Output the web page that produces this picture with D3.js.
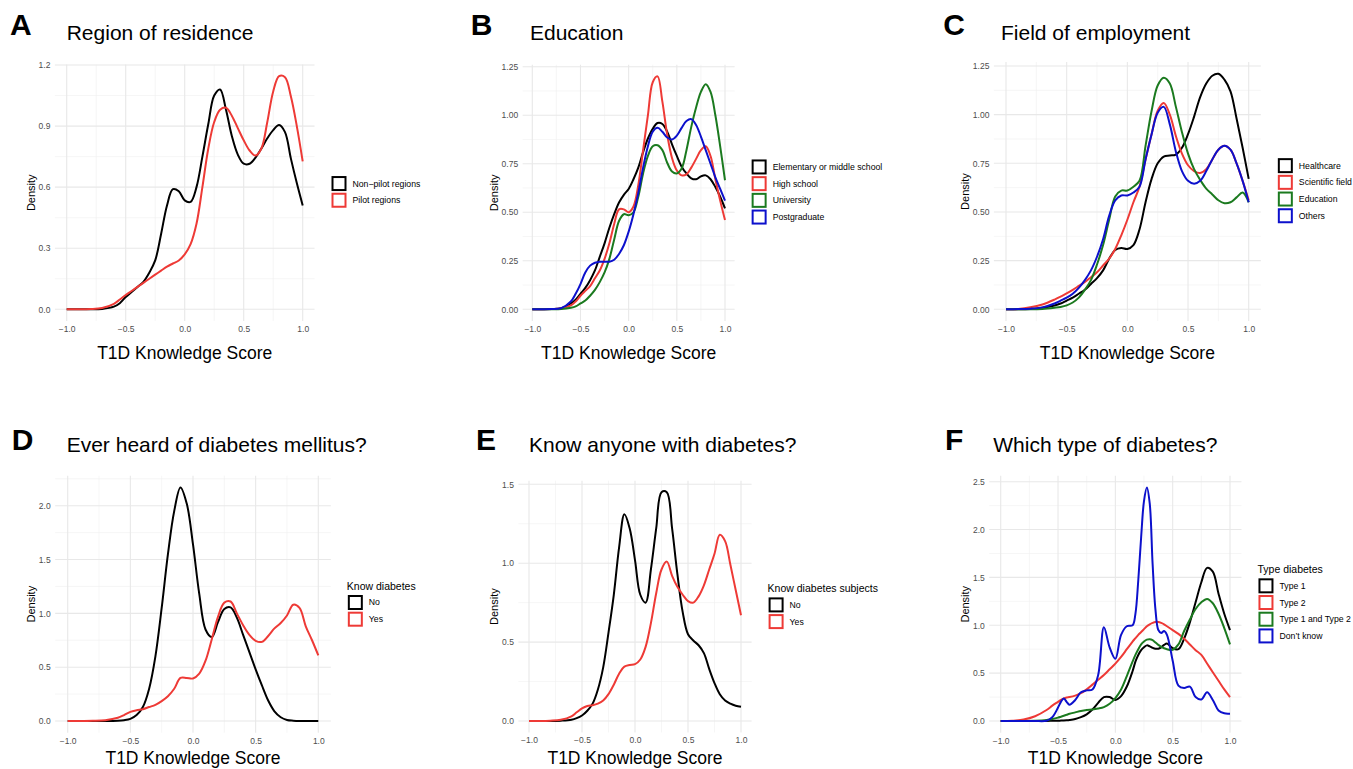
<!DOCTYPE html>
<html>
<head>
<meta charset="utf-8">
<script src="https://cdn.jsdelivr.net/npm/d3@7"></script>
<style>
  body { margin: 0; background: #fff; }
  svg { font-family: "Liberation Sans", Arial, Helvetica, sans-serif; }
</style>
</head>
<body>
<svg id="fig" width="1353" height="769"></svg>
<script>
// score grid the densities were read on (panels A-E)
const grid = [-1, -0.9, -0.8, -0.7, -0.6,
  -0.55, -0.5, -0.45, -0.4, -0.35, -0.3, -0.25, -0.2, -0.15, -0.1, -0.05,
  0, 0.05, 0.1, 0.15, 0.2, 0.25, 0.3, 0.35, 0.4, 0.45,
  0.5, 0.55, 0.6, 0.65, 0.7, 0.75, 0.8, 0.85, 0.9, 0.95,
  1];
// panel F needs a finer grid around the spikes
const gridF = [-1, -0.9, -0.8, -0.7, -0.6,
  -0.55, -0.5, -0.475, -0.45, -0.425, -0.4, -0.35, -0.3, -0.25, -0.2, -0.15, -0.1, -0.05,
  0, 0.05, 0.1, 0.15, 0.175, 0.2, 0.225, 0.25, 0.275, 0.3, 0.325, 0.35, 0.375, 0.4, 0.425, 0.45,
  0.5, 0.55, 0.6, 0.65, 0.7, 0.75, 0.8, 0.85, 0.9, 0.95,
  1];

// A - region of residence
const regionNames = ['Non\u2212pilot regions', 'Pilot regions'];
const regionNonPilot = [0, 0, 0, 0.002, 0.013,
  0.03, 0.06, 0.085, 0.11, 0.135, 0.18, 0.24, 0.37, 0.51, 0.59, 0.58,
  0.535, 0.528, 0.6, 0.75, 0.91, 1.05, 1.08, 0.98, 0.85, 0.76,
  0.715, 0.715, 0.745, 0.79, 0.84, 0.88, 0.905, 0.87, 0.74, 0.62,
  0.51];
const regionPilot = [0, 0, 0.001, 0.006, 0.027,
  0.048, 0.07, 0.09, 0.11, 0.13, 0.15, 0.17, 0.19, 0.21, 0.225, 0.24,
  0.27, 0.32, 0.42, 0.6, 0.79, 0.92, 0.98, 0.99, 0.95, 0.89,
  0.83, 0.78, 0.755, 0.79, 0.92, 1.07, 1.145, 1.14, 1.045, 0.9,
  0.727];

// B - education
const educationNames = ['Elementary or middle school', 'High school', 'University', 'Postgraduate'];
const eduElementary = [0, 0, 0.001, 0.006, 0.03,
  0.05, 0.08, 0.11, 0.15, 0.2, 0.27, 0.34, 0.42, 0.49, 0.55, 0.59,
  0.62, 0.67, 0.73, 0.81, 0.88, 0.93, 0.96, 0.955, 0.915, 0.85,
  0.79, 0.735, 0.7, 0.675, 0.67, 0.685, 0.69, 0.67, 0.63, 0.58,
  0.52];
const eduHighSchool = [0, 0, 0.001, 0.004, 0.02,
  0.04, 0.07, 0.095, 0.12, 0.16, 0.2, 0.26, 0.34, 0.44, 0.515, 0.515,
  0.5, 0.53, 0.64, 0.82, 1.0, 1.17, 1.2, 1.07, 0.9, 0.78,
  0.715, 0.69, 0.695, 0.73, 0.775, 0.82, 0.84, 0.79, 0.67, 0.56,
  0.46];
const eduUniversity = [0, 0, 0, 0.001, 0.008,
  0.015, 0.03, 0.045, 0.07, 0.1, 0.14, 0.19, 0.26, 0.36, 0.455, 0.49,
  0.485, 0.5, 0.58, 0.7, 0.79, 0.84, 0.845, 0.82, 0.755, 0.71,
  0.7, 0.725, 0.82, 0.94, 1.04, 1.12, 1.16, 1.12, 1.0, 0.84,
  0.665];
const eduPostgrad = [0, 0, 0.001, 0.006, 0.04,
  0.08, 0.13, 0.19, 0.225, 0.24, 0.245, 0.245, 0.245, 0.255, 0.285, 0.33,
  0.4, 0.49, 0.6, 0.73, 0.84, 0.915, 0.935, 0.915, 0.885, 0.875,
  0.895, 0.935, 0.97, 0.98, 0.95, 0.89, 0.82, 0.75, 0.68, 0.62,
  0.56];

// C - field of employment
const employmentNames = ['Healthcare', 'Scientific field', 'Education', 'Others'];
const empHealthcare = [0, 0, 0.002, 0.008, 0.02,
  0.03, 0.045, 0.06, 0.08, 0.1, 0.13, 0.16, 0.2, 0.26, 0.305, 0.315,
  0.31, 0.33, 0.41, 0.55, 0.67, 0.75, 0.785, 0.79, 0.795, 0.83,
  0.9, 0.99, 1.09, 1.16, 1.2, 1.21, 1.18, 1.12, 0.98, 0.83,
  0.67];
const empScientific = [0, 0.002, 0.01, 0.025, 0.05,
  0.065, 0.082, 0.1, 0.12, 0.14, 0.165, 0.19, 0.225, 0.26, 0.31, 0.38,
  0.46, 0.55, 0.63, 0.77, 0.9, 1.02, 1.06, 1.0, 0.89, 0.8,
  0.74, 0.71, 0.7, 0.72, 0.77, 0.82, 0.84, 0.82, 0.75, 0.66,
  0.56];
const empEducation = [0, 0, 0, 0.002, 0.008,
  0.012, 0.02, 0.035, 0.06, 0.1, 0.15, 0.23, 0.33, 0.46, 0.58, 0.61,
  0.61, 0.63, 0.66, 0.84, 1.02, 1.15, 1.19, 1.16, 1.04, 0.91,
  0.8, 0.72, 0.665, 0.62, 0.59, 0.56, 0.545, 0.55, 0.575, 0.6,
  0.55];
const empOthers = [0, 0.001, 0.003, 0.01, 0.03,
  0.045, 0.06, 0.08, 0.11, 0.15, 0.2, 0.27, 0.36, 0.48, 0.56, 0.585,
  0.585, 0.6, 0.63, 0.77, 0.9, 1.01, 1.04, 0.95, 0.81, 0.71,
  0.66, 0.645, 0.66, 0.71, 0.77, 0.82, 0.84, 0.82, 0.75, 0.66,
  0.55];

// D - ever heard of diabetes mellitus
const heardNames = ['No', 'Yes'];
const heardNo = [0, 0, 0, 0, 0.003,
  0.008, 0.02, 0.055, 0.13, 0.3, 0.6, 1.05, 1.55, 1.95, 2.17, 2.02,
  1.64, 1.18, 0.85, 0.78, 0.92, 1.04, 1.055, 0.96, 0.8, 0.64,
  0.48, 0.33, 0.19, 0.09, 0.035, 0.01, 0.003, 0, 0, 0,
  0];
const heardYes = [0, 0, 0.002, 0.008, 0.03,
  0.055, 0.085, 0.1, 0.11, 0.13, 0.15, 0.185, 0.23, 0.3, 0.4, 0.4,
  0.395, 0.44, 0.56, 0.76, 0.97, 1.1, 1.11, 1.0, 0.89, 0.8,
  0.745, 0.735, 0.79, 0.86, 0.91, 0.98, 1.08, 1.05, 0.88, 0.75,
  0.61];

// E - know anyone with diabetes
const knowNames = ['No', 'Yes'];
const knowNo = [0, 0, 0, 0.002, 0.008,
  0.018, 0.035, 0.065, 0.11, 0.2, 0.34, 0.56, 0.8, 1.1, 1.31, 1.22,
  1.02, 0.8, 0.75, 0.96, 1.22, 1.45, 1.45, 1.22, 0.93, 0.69,
  0.55, 0.51, 0.48, 0.43, 0.33, 0.24, 0.17, 0.13, 0.11, 0.097,
  0.09];
const knowYes = [0, 0, 0.002, 0.008, 0.03,
  0.055, 0.08, 0.095, 0.1, 0.11, 0.13, 0.17, 0.23, 0.3, 0.345, 0.355,
  0.36, 0.39, 0.47, 0.62, 0.81, 0.96, 1.01, 0.92, 0.85, 0.8,
  0.76, 0.75, 0.79, 0.86, 0.96, 1.06, 1.18, 1.14, 0.99, 0.83,
  0.67];

// F - which type of diabetes (on gridF)
const typeNames = ['Type 1', 'Type 2', 'Type 1 and Type 2', 'Don\u2019t know'];
const typeOne = [0, 0, 0, 0, 0.001,
  0.002, 0.003, 0.004, 0.005, 0.007, 0.01, 0.02, 0.04, 0.07, 0.12, 0.19, 0.25, 0.25,
  0.22, 0.26, 0.36, 0.52, 0.62, 0.69, 0.74, 0.77, 0.79, 0.78, 0.765, 0.755, 0.755, 0.77, 0.795, 0.81,
  0.76, 0.75, 0.86, 1.03, 1.24, 1.45, 1.6, 1.56, 1.33, 1.12,
  0.95];
const typeTwo = [0, 0.003, 0.015, 0.05, 0.115,
  0.16, 0.2, 0.22, 0.235, 0.245, 0.25, 0.265, 0.29, 0.33, 0.38, 0.43, 0.48, 0.54,
  0.6, 0.67, 0.75, 0.83, 0.865, 0.9, 0.93, 0.96, 0.99, 1.01, 1.025, 1.035, 1.035, 1.025, 1.01, 0.99,
  0.95, 0.91, 0.86, 0.8, 0.74, 0.69, 0.6, 0.51, 0.42, 0.33,
  0.25];
const typeBoth = [0, 0, 0, 0.002, 0.01,
  0.02, 0.035, 0.045, 0.055, 0.065, 0.075, 0.09, 0.105, 0.115, 0.12, 0.13, 0.145, 0.18,
  0.24, 0.33, 0.47, 0.62, 0.69, 0.75, 0.8, 0.83, 0.85, 0.855, 0.845, 0.82, 0.795, 0.775, 0.76, 0.75,
  0.745, 0.8, 0.94, 1.06, 1.17, 1.24, 1.275, 1.23, 1.12, 0.97,
  0.8];
const typeDontKnow = [0, 0, 0, 0, 0.003,
  0.04, 0.14, 0.2, 0.235, 0.2, 0.17, 0.22, 0.3, 0.32, 0.33, 0.48, 0.98, 0.77,
  0.65, 0.9, 0.99, 1.0, 1.12, 1.47, 1.92, 2.3, 2.44, 2.27, 1.64, 1.16, 0.95, 0.92, 0.94, 0.9,
  0.63, 0.37, 0.345, 0.36, 0.25, 0.225, 0.3, 0.22, 0.11, 0.08,
  0.077];

// ticks
const xTicks = [-1, -0.5, 0, 0.5, 1];
const yTicksA = [0, 0.3, 0.6, 0.9, 1.2];
const yTicksB = [0, 0.25, 0.5, 0.75, 1, 1.25];
const yTicksC = [0, 0.25, 0.5, 0.75, 1, 1.25];
const yTicksD = [0, 0.5, 1, 1.5, 2];
const yTicksE = [0, 0.5, 1, 1.5];
const yTicksF = [0, 0.5, 1, 1.5, 2, 2.5];

const colBlack = '#000000', colRed = '#ee3a36', colGreen = '#1b7a1f', colBlue = '#0c10cc';
const two = [colBlack, colRed];
const four = [colBlack, colRed, colGreen, colBlue];

const panels = [
  {letter: 'A', title: 'Region of residence', xs: grid, series: [regionNonPilot, regionPilot],
   names: regionNames, colors: two, legendTitle: null, yTicks: yTicksA, yFmt: '.1f'},
  {letter: 'B', title: 'Education', xs: grid, series: [eduElementary, eduHighSchool, eduUniversity, eduPostgrad],
   names: educationNames, colors: four, legendTitle: null, yTicks: yTicksB, yFmt: '.2f'},
  {letter: 'C', title: 'Field of employment', xs: grid, series: [empHealthcare, empScientific, empEducation, empOthers],
   names: employmentNames, colors: four, legendTitle: null, yTicks: yTicksC, yFmt: '.2f'},
  {letter: 'D', title: 'Ever heard of diabetes mellitus?', xs: grid, series: [heardNo, heardYes],
   names: heardNames, colors: two, legendTitle: 'Know diabetes', yTicks: yTicksD, yFmt: '.1f'},
  {letter: 'E', title: 'Know anyone with diabetes?', xs: grid, series: [knowNo, knowYes],
   names: knowNames, colors: two, legendTitle: 'Know diabetes subjects', yTicks: yTicksE, yFmt: '.1f'},
  {letter: 'F', title: 'Which type of diabetes?', xs: gridF, series: [typeOne, typeTwo, typeBoth, typeDontKnow],
   names: typeNames, colors: four, legendTitle: 'Type diabetes', yTicks: yTicksF, yFmt: '.1f'}
];

// where each panel sits on the page (pixel positions of x=-1, x=1, y=0 and top tick)
const layout = [
  {x0: 66.7, x1: 302.7, y0: 309.3, yTop: 65, letterX: 10, titleX: 66.7, row: 0},
  {x0: 532.3, x1: 725, y0: 309.3, yTop: 66.7, letterX: 470.7, titleX: 530, row: 0},
  {x0: 1006, x1: 1248.7, y0: 309.3, yTop: 66, letterX: 943.3, titleX: 1001, row: 0},
  {x0: 67.7, x1: 318.3, y0: 721, yTop: 505.7, letterX: 11.7, titleX: 66.7, row: 1},
  {x0: 529, x1: 741, y0: 721, yTop: 484.3, letterX: 476, titleX: 529, row: 1},
  {x0: 1000.7, x1: 1230, y0: 721, yTop: 481.7, letterX: 945, titleX: 993.3, row: 1}
];
const rowText = [
  {letterY: 35, titleY: 40, axisTitleY: 359},
  {letterY: 450, titleY: 452, axisTitleY: 764}
];

const svg = d3.select('#fig');

function drawPanel(p, L, idx) {
  const R = rowText[L.row];
  const g = svg.append('g').attr('class', 'panel');
  const tTop = p.yTicks[p.yTicks.length - 1];
  const x = d3.scaleLinear().domain([-1, 1]).range([L.x0, L.x1]);
  const y = d3.scaleLinear().domain([0, tTop]).range([L.y0, L.yTop]);
  const yMax = d3.max(p.series, s => d3.max(s));
  const left = x(-1.1), right = x(1.1);
  const bottom = y(-0.05 * yMax), top = y(1.05 * yMax);

  // grid lines (theme_minimal style)
  const xMinor = [-0.75, -0.25, 0.25, 0.75];
  const yStep = p.yTicks[1] - p.yTicks[0];
  const yMinor = p.yTicks.map(t => t + yStep / 2).filter(v => v <= 1.05 * yMax);
  const grid_g = g.append('g');
  grid_g.selectAll('.vmin').data(xMinor).enter().append('line')
    .attr('x1', d => x(d)).attr('x2', d => x(d)).attr('y1', top).attr('y2', bottom)
    .attr('stroke', '#f0f0f0').attr('stroke-width', 0.6);
  grid_g.selectAll('.hmin').data(yMinor).enter().append('line')
    .attr('x1', left).attr('x2', right).attr('y1', d => y(d)).attr('y2', d => y(d))
    .attr('stroke', '#f0f0f0').attr('stroke-width', 0.6);
  grid_g.selectAll('.vmaj').data(xTicks).enter().append('line')
    .attr('x1', d => x(d)).attr('x2', d => x(d)).attr('y1', top).attr('y2', bottom)
    .attr('stroke', '#e8e8e8').attr('stroke-width', 1.1);
  grid_g.selectAll('.hmaj').data(p.yTicks).enter().append('line')
    .attr('x1', left).attr('x2', right).attr('y1', d => y(d)).attr('y2', d => y(d))
    .attr('stroke', '#e8e8e8').attr('stroke-width', 1.1);

  // axes, labels only
  const xa = g.append('g').attr('transform', `translate(0,${bottom})`)
    .call(d3.axisBottom(x).tickValues(xTicks).tickFormat(d3.format('.1f')).tickSize(0).tickPadding(5));
  xa.select('.domain').remove();
  xa.attr('font-family', null).attr('font-size', 8.5);
  xa.selectAll('text').attr('fill', '#4d4d4d');

  const ya = g.append('g').attr('transform', `translate(${left},0)`)
    .call(d3.axisLeft(y).tickValues(p.yTicks).tickFormat(d3.format(p.yFmt)).tickSize(0).tickPadding(4.5));
  ya.select('.domain').remove();
  ya.attr('font-family', null).attr('font-size', 8.5);
  ya.selectAll('text').attr('fill', '#4d4d4d');
  let maxW = 0;
  ya.selectAll('text').each(function () { maxW = Math.max(maxW, this.getComputedTextLength()); });

  g.append('text')
    .attr('transform', `translate(${left - 4.5 - maxW - 4},${(top + bottom) / 2}) rotate(-90)`)
    .attr('text-anchor', 'middle').attr('font-size', 11).attr('fill', '#000')
    .text('Density');

  g.append('text')
    .attr('x', (left + right) / 2).attr('y', R.axisTitleY)
    .attr('text-anchor', 'middle').attr('font-size', 17.5).attr('fill', '#000')
    .text('T1D Knowledge Score');

  // curves
  const clipId = 'clip' + idx;
  g.append('clipPath').attr('id', clipId).append('rect')
    .attr('x', left).attr('y', top - 5).attr('width', right - left).attr('height', bottom - top + 5);
  const line = d3.line()
    .x((d, i) => x(p.xs[i]))
    .y(d => y(d))
    .curve(d3.curveCatmullRom.alpha(0.5));
  g.append('g').attr('clip-path', `url(#${clipId})`)
    .selectAll('path').data(p.series).enter().append('path')
    .attr('d', line)
    .attr('fill', 'none')
    .attr('stroke', (d, i) => p.colors[i])
    .attr('stroke-width', 2)
    .attr('stroke-linejoin', 'round');

  // legend
  const keyH = 16.7;
  const titleH = p.legendTitle ? 15 : 0;
  const total = titleH + p.names.length * keyH;
  const lTop = (top + bottom) / 2 - total / 2;
  const lx = right + 17;
  const leg = g.append('g');
  if (p.legendTitle) {
    leg.append('text').attr('x', lx - 1).attr('y', lTop + 10)
      .attr('font-size', 10.5).attr('fill', '#000').text(p.legendTitle);
  }
  const items = leg.selectAll('.item').data(p.names).enter().append('g')
    .attr('transform', (d, i) => `translate(${lx},${lTop + titleH + i * keyH})`);
  items.append('rect')
    .attr('x', 1).attr('y', 1).attr('width', 13).attr('height', 13)
    .attr('fill', '#fff')
    .attr('stroke', (d, i) => p.colors[i]).attr('stroke-width', 2);
  items.append('text')
    .attr('x', 21).attr('y', 10.5)
    .attr('font-size', 8.7).attr('fill', '#000')
    .text(d => d);

  // panel letter and title
  g.append('text').attr('x', L.letterX).attr('y', R.letterY)
    .attr('font-size', 30).attr('font-weight', 'bold').attr('fill', '#000')
    .text(p.letter);
  g.append('text').attr('x', L.titleX).attr('y', R.titleY)
    .attr('font-size', 21).attr('fill', '#000')
    .text(p.title);
}

panels.forEach((p, i) => drawPanel(p, layout[i], i));
</script>
</body>
</html>
